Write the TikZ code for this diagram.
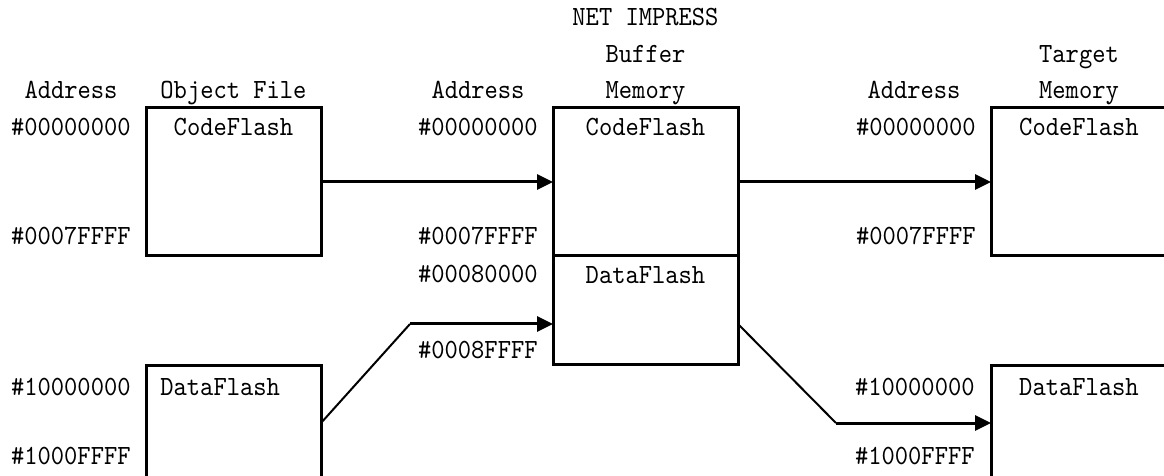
\documentclass[tikz,border=0pt]{standalone}
\usepackage{fontspec}
\setmonofont{lmmono10-regular}[Extension=.otf, FakeStretch=0.91]
\usetikzlibrary{arrows.meta, positioning}

\begin{document}
\begin{tikzpicture}[
    x=0.5pt, y=-0.5pt,
    font=\ttfamily\fontsize{13.9pt}{17pt}\selectfont,
    box/.style={
        draw,
        rectangle,
        line width=1.5pt,
        outer sep=0pt,
        inner sep=0pt,
        minimum width=87.5pt,
        minimum height=74pt
    },
    lbl/.style={inner sep=0pt, anchor=base},
    addr/.style={inner sep=0pt, anchor=base east},
    arrow/.style={-{Triangle[length=8pt,width=7.5pt]}, line width=1.5pt},
    slant/.style={line width=1pt}
]
\useasboundingbox (0,0) rectangle (1164,476);

% Headers
\node[lbl] (ohead) at (71,99) {Address};
\node[lbl] (otitle) at (233.5,99) {Object File};
\node[lbl] (bhead) at (478,99) {Address};
\node[lbl] (btitle1) at (645.5,26) {NET IMPRESS};
\node[lbl] (btitle2) at (645.5,63) {Buffer};
\node[lbl] (btitle3) at (645.5,99) {Memory};
\node[lbl] (thead) at (914,99) {Address};
\node[lbl] (ttitle1) at (1079,63) {Target};
\node[lbl] (ttitle2) at (1079,99) {Memory};

% Object file
\node[box] (objcode) at (233.5,182) {};
\node[box, minimum height=57pt] (objdata) at (233.5,423) {};
\node[lbl] (objcodetxt) at ([yshift=-14pt]objcode.north) {CodeFlash};
\node[lbl, anchor=base west] (objdatatxt) at ([xshift=7pt,yshift=-14.5pt]objdata.north west) {DataFlash};
\node[addr] (oa1) at (131,136) {\#00000000};
\node[addr] (oa2) at (131,245) {\#0007FFFF};
\node[addr] (oa3) at (131,395) {\#10000000};
\node[addr] (oa4) at (131,465) {\#1000FFFF};

% Buffer memory
\node[box, minimum width=92.5pt] (bufcode) at (645.5,182) {};
\node[box, minimum width=92.5pt, minimum height=54.5pt] (bufdata) [below=0pt of bufcode] {};
\node[lbl] (bufcodetxt) at ([yshift=-14pt]bufcode.north) {CodeFlash};
\node[lbl] (bufdatatxt) at ([yshift=-14pt]bufdata.north) {DataFlash};
\node[addr] (ba1) at (538,136) {\#00000000};
\node[addr] (ba2) at (538,245) {\#0007FFFF};
\node[addr] (ba3) at (538,283) {\#00080000};
\node[addr] (ba4) at (538,358) {\#0008FFFF};

% Target memory
\node[box, minimum width=88pt] (tgtcode) at (1079,182) {};
\node[box, minimum width=88pt, minimum height=57pt] (tgtdata) at (1079,423) {};
\node[lbl] (tgtcodetxt) at ([yshift=-14pt]tgtcode.north) {CodeFlash};
\node[lbl] (tgtdatatxt) at ([yshift=-14.5pt]tgtdata.north) {DataFlash};
\node[addr] (ta1) at (976,136) {\#00000000};
\node[addr] (ta2) at (976,245) {\#0007FFFF};
\node[addr] (ta3) at (975,395) {\#10000000};
\node[addr] (ta4) at (975,465) {\#1000FFFF};

% Arrows
\coordinate (rise) at (410,324);
\coordinate (fall) at (836,423);
\draw[arrow] (objcode.east) -- (bufcode.west);
\draw[arrow] (bufcode.east) -- (tgtcode.west);
\draw[slant] (objdata.east) -- (rise);
\draw[arrow] (rise) -- (rise -| bufdata.west);
\draw[slant] (rise -| bufdata.east) -- (fall);
\draw[arrow] (fall) -- (fall -| tgtdata.west);

\end{tikzpicture}
\end{document}
